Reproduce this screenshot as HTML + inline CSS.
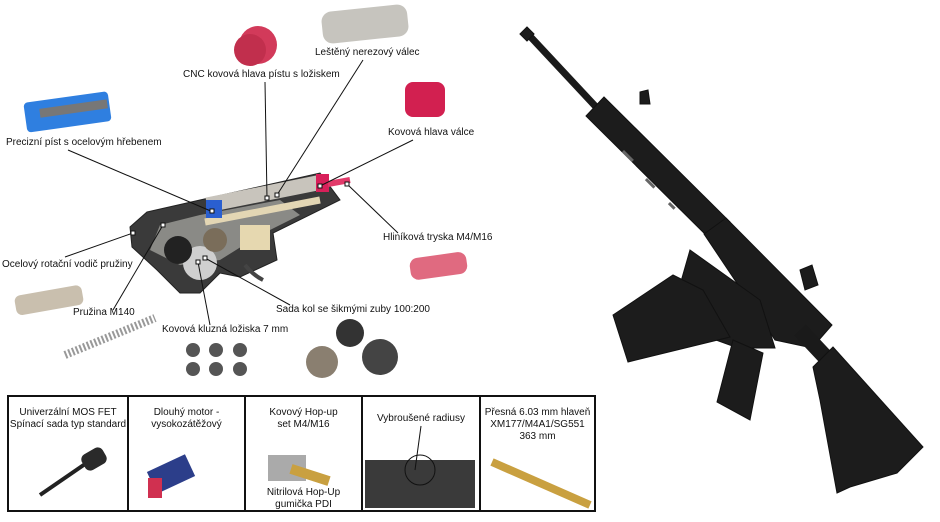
<!DOCTYPE html>
<html><head><meta charset="utf-8">
<style>
html,body{margin:0;padding:0;background:#fff;}
body{width:940px;height:522px;position:relative;overflow:hidden;font-family:"Liberation Sans","DejaVu Sans",sans-serif;}
.t{position:absolute;font-size:10px;color:#111;white-space:nowrap;line-height:12px;}
.bx{position:absolute;top:395px;height:117px;border:2px solid #111;box-sizing:border-box;font-size:10px;text-align:center;line-height:12px;color:#111;}
</style></head><body>
<svg width="940" height="522" style="position:absolute;left:0;top:0">
<!-- rifle -->
<g fill="#1c1c1c" stroke="#111">
<line x1="527" y1="33" x2="597" y2="108" stroke="#1a1a1a" stroke-width="7"/>
<rect x="522" y="29" width="10" height="10" transform="rotate(45 527 34)"/>
<polygon points="586,116 604,97 730,222 712,241"/>
<polygon points="640,92 648,90 650,104 640,104"/>
<polygon points="704,234 726,218 832,325 812,348 775,340"/>
<polygon points="690,250 760,300 775,348 738,348 702,335 680,285"/>
<polygon points="613,315 673,275 703,290 730,337 628,362"/>
<polygon points="717,402 733,340 763,353 750,420"/>
<line x1="800" y1="330" x2="830" y2="362" stroke="#1a1a1a" stroke-width="16"/>
<polygon points="813,367 833,347 923,447 897,473 850,487 837,493 820,400"/>
<polygon points="800,270 812,265 818,285 805,290"/>
</g>
<g fill="#666"><rect x="624" y="150" width="14" height="3" transform="rotate(45 624 150)"/><rect x="647" y="178" width="12" height="3" transform="rotate(45 647 178)"/><rect x="670" y="202" width="8" height="3" transform="rotate(45 670 202)"/></g>
<!-- gearbox -->
<polygon points="147,212 200,200 320,173 340,200 273,233 277,260 240,277 220,273 200,293 180,293 157,270 132,247 130,227" fill="#3a3a3a" stroke="#222"/>
<polygon points="160,225 200,215 280,200 300,215 260,235 220,260 180,265 150,250" fill="#8a8a86"/>
<line x1="207" y1="205" x2="322" y2="182" stroke="#c8c4bc" stroke-width="15"/>
<line x1="205" y1="222" x2="320" y2="200" stroke="#e3d6b4" stroke-width="7"/>
<rect x="206" y="200" width="16" height="18" fill="#2a5fd0"/>
<rect x="316" y="174" width="13" height="18" fill="#d8205a"/>
<line x1="328" y1="184" x2="350" y2="180" stroke="#e23a6a" stroke-width="6"/>
<circle cx="200" cy="263" r="17" fill="#cfcfcf"/>
<circle cx="215" cy="240" r="12" fill="#7a6d5a"/>
<circle cx="178" cy="250" r="14" fill="#222"/>
<rect x="240" y="225" width="30" height="25" fill="#e6d8b0"/>
<path d="M245 265 q8 10 18 15" stroke="#444" stroke-width="4" fill="none"/>
<!-- parts -->
<rect x="25" y="97" width="85" height="30" rx="4" fill="#2f7fe0" transform="rotate(-8 67 112)"/>
<rect x="40" y="105" width="68" height="9" fill="#777" transform="rotate(-8 67 112)"/>
<circle cx="258" cy="45" r="19" fill="#d23a5a"/><circle cx="250" cy="50" r="16" fill="#c12f4d"/>
<rect x="322" y="8" width="86" height="32" rx="10" fill="#c6c4be" transform="rotate(-6 365 24)"/>
<rect x="405" y="82" width="40" height="35" rx="8" fill="#d22050"/>
<rect x="410" y="255" width="57" height="22" rx="8" fill="#e06a80" transform="rotate(-8 438 266)"/>
<rect x="15" y="290" width="68" height="20" rx="6" fill="#c9bfae" transform="rotate(-10 50 300)"/>
<path d="M65 355 l90 -37" stroke="#999" stroke-width="8" stroke-dasharray="2 2"/>
<g fill="#555"><circle cx="193" cy="350" r="7"/><circle cx="216" cy="350" r="7"/><circle cx="240" cy="350" r="7"/><circle cx="193" cy="369" r="7"/><circle cx="216" cy="369" r="7"/><circle cx="240" cy="369" r="7"/></g>
<circle cx="322" cy="362" r="16" fill="#8a7f70"/><circle cx="350" cy="333" r="14" fill="#333"/><circle cx="380" cy="357" r="18" fill="#444"/>
<!-- box images -->
<path d="M40 495 L88 462" stroke="#222" stroke-width="4"/><rect x="82" y="450" width="24" height="18" rx="6" fill="#2a2a2a" transform="rotate(-30 94 459)"/>
<rect x="150" y="462" width="42" height="24" fill="#2c3e8a" transform="rotate(-25 171 474)"/><rect x="148" y="478" width="14" height="20" fill="#d03050"/>
<rect x="268" y="455" width="38" height="26" fill="#aaa"/><rect x="290" y="470" width="40" height="10" fill="#c9a040" transform="rotate(18 310 475)"/>
<rect x="365" y="460" width="110" height="48" fill="#3a3a3a"/><circle cx="420" cy="470" r="15" fill="none" stroke="#111"/>
<line x1="492" y1="462" x2="590" y2="505" stroke="#c9a040" stroke-width="8"/>
<!-- connectors -->
<g stroke="#111" stroke-width="1" fill="none">
<line x1="68" y1="150" x2="213" y2="212"/>
<line x1="265" y1="82" x2="267" y2="198"/>
<line x1="363" y1="60" x2="277" y2="195"/>
<line x1="413" y1="140" x2="320" y2="186"/>
<line x1="398" y1="233" x2="347" y2="184"/>
<line x1="65" y1="257" x2="133" y2="233"/>
<line x1="113" y1="310" x2="163" y2="225"/>
<line x1="290" y1="305" x2="205" y2="258"/>
<line x1="210" y1="325" x2="198" y2="262"/>
<line x1="421" y1="426" x2="415" y2="470"/>
</g>
<g fill="#fff" stroke="#111"><rect x="210" y="209" width="4" height="4"/><rect x="265" y="196" width="4" height="4"/><rect x="275" y="193" width="4" height="4"/><rect x="318" y="184" width="4" height="4"/><rect x="345" y="182" width="4" height="4"/><rect x="131" y="231" width="4" height="4"/><rect x="161" y="223" width="4" height="4"/><rect x="203" y="256" width="4" height="4"/><rect x="196" y="260" width="4" height="4"/></g>
</svg>
<div class="t" style="left:315px;top:47px">Leštěný nerezový válec</div>
<div class="t" style="left:183px;top:69px">CNC kovová hlava pístu s ložiskem</div>
<div class="t" style="left:388px;top:127px">Kovová hlava válce</div>
<div class="t" style="left:6px;top:137px">Precizní píst s ocelovým hřebenem</div>
<div class="t" style="left:383px;top:232px">Hliníková tryska M4/M16</div>
<div class="t" style="left:2px;top:259px">Ocelový rotační vodič pružiny</div>
<div class="t" style="left:73px;top:307px">Pružina M140</div>
<div class="t" style="left:276px;top:304px">Sada kol se šikmými zuby 100:200</div>
<div class="t" style="left:162px;top:324px">Kovová kluzná ložiska 7 mm</div>
<div class="bx" style="left:7px;width:122px;padding-top:10px">Univerzální MOS FET<br>Spínací sada typ standard</div>
<div class="bx" style="left:127px;width:119px;padding-top:10px">Dlouhý motor -<br>vysokozátěžový</div>
<div class="bx" style="left:244px;width:119px;padding-top:10px">Kovový Hop-up<br>set M4/M16<div style="position:absolute;left:0;right:0;top:90px">Nitrilová Hop-Up<br>gumička PDI</div></div>
<div class="bx" style="left:361px;width:120px;padding-top:16px">Vybroušené radiusy</div>
<div class="bx" style="left:479px;width:117px;padding-top:10px">Přesná 6.03 mm hlaveň<br>XM177/M4A1/SG551<br>363 mm</div>
</body></html>
